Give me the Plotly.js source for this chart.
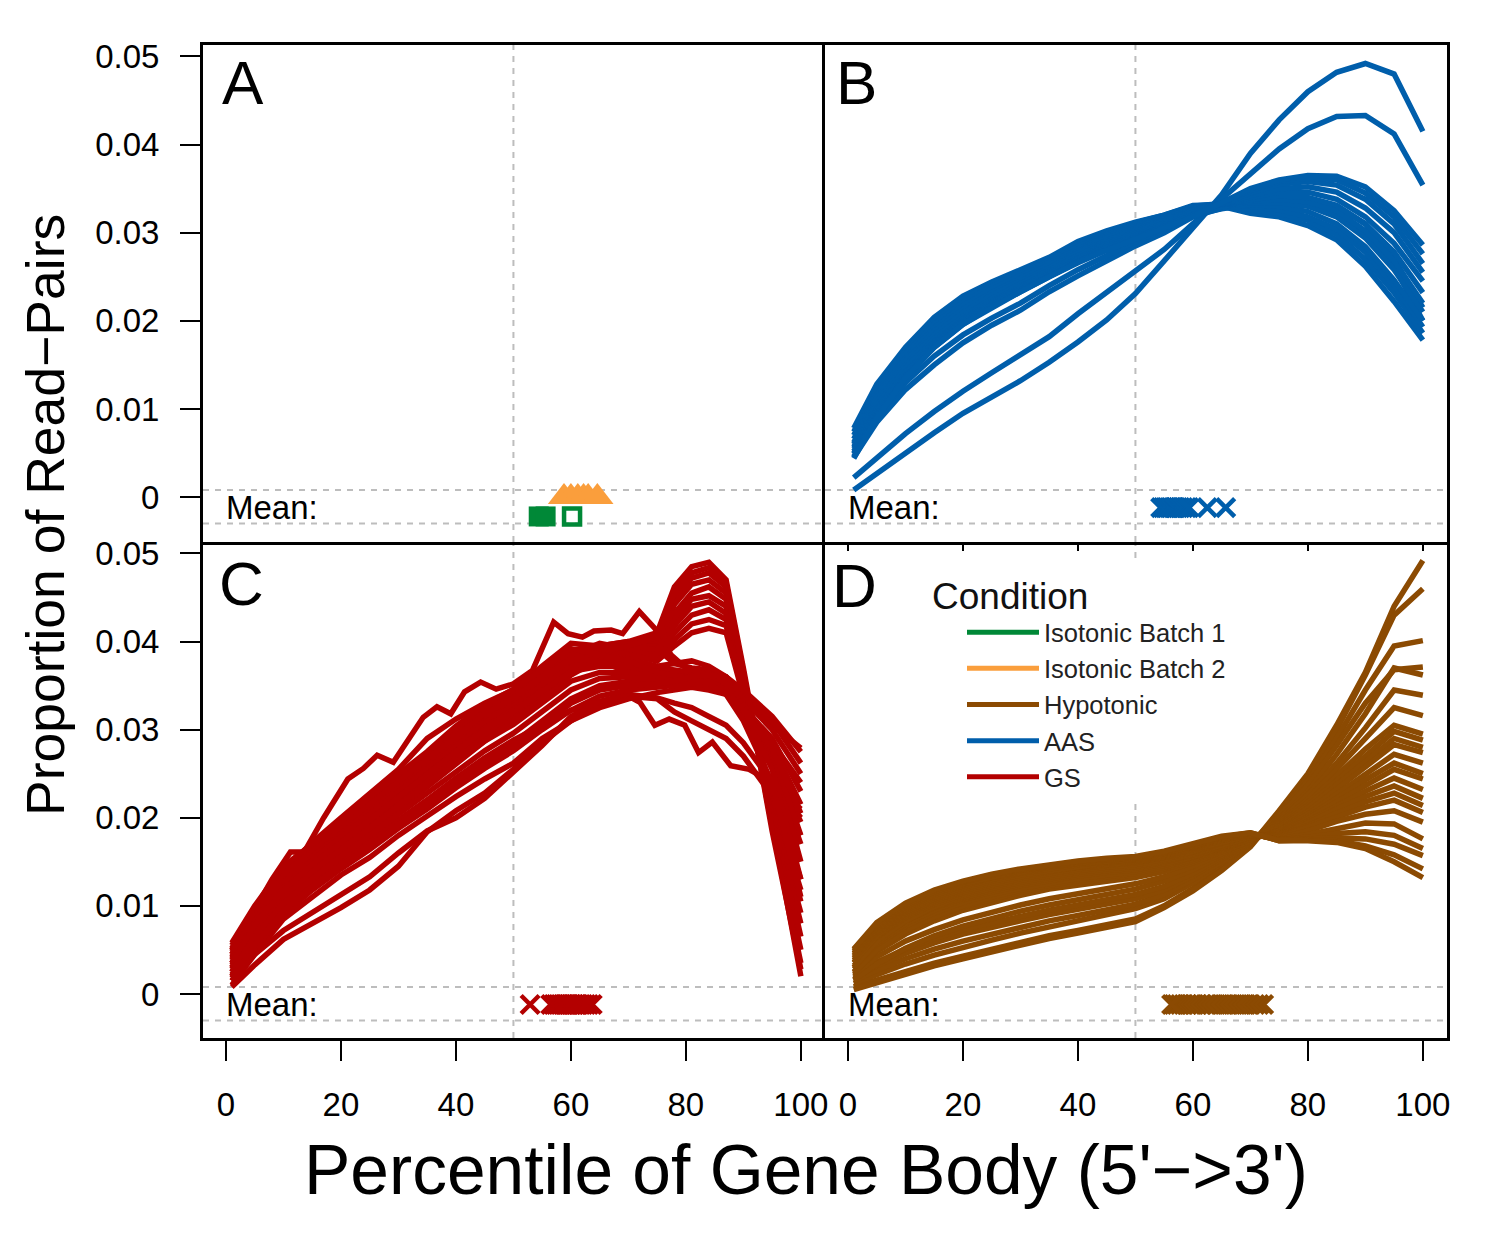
<!DOCTYPE html>
<html>
<head>
<meta charset="utf-8">
<script src="https://cdn.plot.ly/plotly-3.0.1.min.js"></script>
<style>html,body{margin:0;padding:0;background:#fff;}#chart{width:1488px;height:1238px;}</style>
</head>
<body>
<div id="chart"></div>
<script>
// ---------------- DATA ----------------
const conditions = ['Isotonic Batch 1', 'Isotonic Batch 2', 'Hypotonic', 'AAS', 'GS'];
const condColors = ['#008837', '#FA9E3C', '#8B4A02', '#005EAB', '#B30000'];

const xTicks = [0, 20, 40, 60, 80, 100];
const xTickText = ['0', '20', '40', '60', '80', '100'];
const yTicks = [0, 0.01, 0.02, 0.03, 0.04, 0.05];
const yTickText = ['0', '0.01', '0.02', '0.03', '0.04', '0.05'];

// percentile grid for panels B and D
const pct = [1, 5, 10, 15, 20, 25, 30, 35, 40, 45, 50, 55, 60, 65, 70, 75, 80, 85, 90, 95, 100];
// percentile grid for panel C
const pctC = [1, 5, 10, 15, 20, 25, 30, 35, 40, 45, 50, 55, 60, 65, 70, 75, 78, 81, 84, 87, 90, 95, 100];
const pctT1 = [1, 5, 8, 11.2, 13.6, 17, 21.2, 23.9, 26.3, 29.1, 31.9, 34.3, 36.7, 39.1, 41.5, 44.3, 47, 50, 53.3, 57, 59.5, 62, 64, 67, 69, 71.9, 74.6, 77.4, 80, 82.2, 84.6, 87.4, 91, 95, 100];
const pctLo3 = [1, 5, 10, 15, 20, 25, 30, 35, 40, 45, 50, 55, 60, 65, 70, 72, 74.6, 77.1, 79.8, 82.2, 84.6, 87.8, 91, 95, 100];

// Panel A: mean positions only
const iso1MeanFilled = [54.4, 55.6];
const iso1MeanOpen = [60.2];
const iso2Mean = [58.8, 60.0, 61.2, 62.2, 63.0, 64.6];

// Panel B: AAS
const aas01 = [0.0008, 0.0027, 0.0050, 0.0073, 0.0095, 0.0114, 0.0132, 0.0153, 0.0176, 0.0201, 0.0231, 0.0268, 0.0305, 0.0343, 0.0390, 0.0428, 0.0460, 0.0482, 0.0492, 0.0480, 0.0415];
const aas02 = [0.0022, 0.0045, 0.0072, 0.0097, 0.0120, 0.0141, 0.0162, 0.0182, 0.0208, 0.0232, 0.0256, 0.0281, 0.0310, 0.0338, 0.0366, 0.0395, 0.0418, 0.0432, 0.0433, 0.0412, 0.0354];
const aas03 = [0.0045, 0.0085, 0.0122, 0.0150, 0.0175, 0.0195, 0.0212, 0.0233, 0.0251, 0.0268, 0.0285, 0.0300, 0.0318, 0.0328, 0.0335, 0.0340, 0.0338, 0.0330, 0.0310, 0.0270, 0.0215];
const aas04 = [0.0050, 0.0092, 0.0130, 0.0160, 0.0184, 0.0203, 0.0220, 0.0240, 0.0258, 0.0274, 0.0290, 0.0304, 0.0320, 0.0327, 0.0332, 0.0335, 0.0332, 0.0322, 0.0300, 0.0262, 0.0200];
const aas05 = [0.0078, 0.0128, 0.0170, 0.0204, 0.0228, 0.0244, 0.0258, 0.0272, 0.0290, 0.0302, 0.0312, 0.0320, 0.0330, 0.0330, 0.0322, 0.0318, 0.0308, 0.0292, 0.0262, 0.0222, 0.0178];
const aas06 = [0.0074, 0.0124, 0.0166, 0.0200, 0.0225, 0.0242, 0.0256, 0.0270, 0.0287, 0.0300, 0.0311, 0.0320, 0.0331, 0.0332, 0.0326, 0.0322, 0.0314, 0.0298, 0.0270, 0.0232, 0.0186];
const aas07 = [0.0070, 0.0120, 0.0162, 0.0196, 0.0221, 0.0239, 0.0254, 0.0268, 0.0284, 0.0298, 0.0309, 0.0318, 0.0330, 0.0333, 0.0330, 0.0326, 0.0318, 0.0304, 0.0278, 0.0240, 0.0193];
const aas08 = [0.0066, 0.0116, 0.0158, 0.0192, 0.0217, 0.0236, 0.0251, 0.0266, 0.0282, 0.0296, 0.0307, 0.0317, 0.0329, 0.0333, 0.0332, 0.0330, 0.0324, 0.0310, 0.0284, 0.0246, 0.0200];
const aas09 = [0.0062, 0.0112, 0.0154, 0.0188, 0.0213, 0.0232, 0.0248, 0.0263, 0.0279, 0.0294, 0.0305, 0.0316, 0.0328, 0.0333, 0.0334, 0.0334, 0.0330, 0.0318, 0.0294, 0.0258, 0.0210];
const aas10 = [0.0060, 0.0108, 0.0150, 0.0184, 0.0209, 0.0229, 0.0245, 0.0260, 0.0277, 0.0291, 0.0303, 0.0315, 0.0327, 0.0333, 0.0336, 0.0338, 0.0335, 0.0325, 0.0302, 0.0268, 0.0220];
const aas11 = [0.0057, 0.0104, 0.0146, 0.0180, 0.0205, 0.0225, 0.0242, 0.0257, 0.0274, 0.0289, 0.0301, 0.0313, 0.0326, 0.0333, 0.0338, 0.0342, 0.0340, 0.0331, 0.0310, 0.0278, 0.0232];
const aas12 = [0.0055, 0.0100, 0.0142, 0.0176, 0.0202, 0.0222, 0.0239, 0.0255, 0.0272, 0.0287, 0.0299, 0.0311, 0.0325, 0.0333, 0.0340, 0.0346, 0.0346, 0.0338, 0.0318, 0.0288, 0.0245];
const aas13 = [0.0052, 0.0097, 0.0139, 0.0174, 0.0200, 0.0220, 0.0237, 0.0253, 0.0270, 0.0285, 0.0297, 0.0309, 0.0323, 0.0333, 0.0342, 0.0350, 0.0352, 0.0346, 0.0328, 0.0300, 0.0255];
const aas14 = [0.0049, 0.0094, 0.0137, 0.0172, 0.0198, 0.0218, 0.0235, 0.0251, 0.0268, 0.0283, 0.0295, 0.0307, 0.0321, 0.0333, 0.0345, 0.0355, 0.0358, 0.0354, 0.0338, 0.0310, 0.0265];
const aas15 = [0.0046, 0.0092, 0.0136, 0.0170, 0.0196, 0.0216, 0.0233, 0.0250, 0.0267, 0.0281, 0.0294, 0.0306, 0.0320, 0.0334, 0.0348, 0.0358, 0.0362, 0.0360, 0.0345, 0.0318, 0.0276];
const aas16 = [0.0044, 0.0090, 0.0135, 0.0170, 0.0196, 0.0215, 0.0233, 0.0250, 0.0266, 0.0280, 0.0293, 0.0305, 0.0318, 0.0334, 0.0350, 0.0360, 0.0365, 0.0364, 0.0352, 0.0325, 0.0286];
const aasCurves = [aas01, aas02, aas03, aas04, aas05, aas06, aas07, aas08, aas09, aas10, aas11, aas12, aas13, aas14, aas15, aas16];
const aasMean = [54.4, 54.8, 55.2, 55.5, 55.9, 56.2, 56.6, 56.8, 57.0, 57.4, 57.8, 58.3, 58.9, 59.3, 62.5, 65.7];

// Panel C: GS
const gsT1 = [0.0050, 0.0095, 0.0130, 0.0161, 0.0161, 0.0200, 0.0244, 0.0256, 0.0271, 0.0263, 0.0291, 0.0314, 0.0326, 0.0318, 0.0343, 0.0354, 0.0346, 0.0352, 0.0367, 0.0422, 0.0409, 0.0405, 0.0412, 0.0413, 0.0409, 0.0434, 0.0415, 0.0385, 0.0370, 0.0362, 0.0365, 0.0352, 0.0330, 0.0305, 0.0279];
const gsLo3 = [0.0020, 0.0060, 0.0100, 0.0128, 0.0152, 0.0175, 0.0198, 0.0220, 0.0245, 0.0268, 0.0288, 0.0305, 0.0322, 0.0330, 0.0338, 0.0331, 0.0305, 0.0312, 0.0305, 0.0274, 0.0286, 0.0259, 0.0255, 0.0240, 0.0210];
const gs01 = [0.0045, 0.0090, 0.0140, 0.0172, 0.0200, 0.0228, 0.0255, 0.0290, 0.0312, 0.0330, 0.0345, 0.0372, 0.0398, 0.0395, 0.0400, 0.0392, 0.0375, 0.0370, 0.0368, 0.0360, 0.0340, 0.0310, 0.0262];
const gs02 = [0.0008, 0.0033, 0.0062, 0.0080, 0.0098, 0.0118, 0.0145, 0.0184, 0.0208, 0.0228, 0.0255, 0.0285, 0.0310, 0.0330, 0.0338, 0.0335, 0.0320, 0.0310, 0.0300, 0.0290, 0.0270, 0.0225, 0.0180];
const gs03 = [0.0015, 0.0045, 0.0072, 0.0092, 0.0113, 0.0133, 0.0160, 0.0185, 0.0200, 0.0222, 0.0252, 0.0282, 0.0315, 0.0332, 0.0340, 0.0336, 0.0330, 0.0325, 0.0315, 0.0305, 0.0285, 0.0240, 0.0200];
const gs04 = [0.0035, 0.0080, 0.0120, 0.0150, 0.0175, 0.0200, 0.0228, 0.0255, 0.0282, 0.0305, 0.0325, 0.0350, 0.0380, 0.0395, 0.0400, 0.0410, 0.0462, 0.0485, 0.0490, 0.0470, 0.0370, 0.0195, 0.0020];
const gs05 = [0.0030, 0.0072, 0.0112, 0.0142, 0.0168, 0.0193, 0.0220, 0.0248, 0.0275, 0.0300, 0.0322, 0.0345, 0.0372, 0.0390, 0.0398, 0.0402, 0.0450, 0.0472, 0.0478, 0.0462, 0.0362, 0.0190, 0.0035];
const gs06 = [0.0042, 0.0088, 0.0128, 0.0158, 0.0183, 0.0208, 0.0235, 0.0262, 0.0288, 0.0312, 0.0330, 0.0356, 0.0385, 0.0398, 0.0392, 0.0398, 0.0442, 0.0465, 0.0470, 0.0455, 0.0355, 0.0200, 0.0050];
const gs07 = [0.0025, 0.0068, 0.0108, 0.0137, 0.0162, 0.0188, 0.0214, 0.0240, 0.0268, 0.0292, 0.0316, 0.0340, 0.0368, 0.0385, 0.0395, 0.0395, 0.0432, 0.0455, 0.0462, 0.0448, 0.0352, 0.0205, 0.0065];
const gs08 = [0.0048, 0.0092, 0.0132, 0.0162, 0.0188, 0.0213, 0.0240, 0.0266, 0.0292, 0.0318, 0.0336, 0.0362, 0.0390, 0.0396, 0.0388, 0.0392, 0.0425, 0.0448, 0.0452, 0.0440, 0.0350, 0.0210, 0.0080];
const gs09 = [0.0020, 0.0062, 0.0102, 0.0132, 0.0158, 0.0183, 0.0208, 0.0235, 0.0262, 0.0287, 0.0310, 0.0335, 0.0362, 0.0380, 0.0390, 0.0390, 0.0418, 0.0440, 0.0445, 0.0432, 0.0345, 0.0212, 0.0092];
const gs10 = [0.0038, 0.0082, 0.0122, 0.0152, 0.0178, 0.0203, 0.0230, 0.0257, 0.0284, 0.0308, 0.0328, 0.0352, 0.0378, 0.0392, 0.0386, 0.0385, 0.0410, 0.0430, 0.0436, 0.0425, 0.0342, 0.0218, 0.0105];
const gs11 = [0.0028, 0.0070, 0.0110, 0.0140, 0.0165, 0.0190, 0.0217, 0.0244, 0.0270, 0.0295, 0.0318, 0.0342, 0.0368, 0.0385, 0.0392, 0.0382, 0.0402, 0.0420, 0.0425, 0.0418, 0.0340, 0.0225, 0.0118];
const gs12 = [0.0052, 0.0095, 0.0135, 0.0165, 0.0190, 0.0216, 0.0243, 0.0270, 0.0296, 0.0320, 0.0338, 0.0362, 0.0388, 0.0392, 0.0385, 0.0378, 0.0395, 0.0410, 0.0415, 0.0410, 0.0338, 0.0230, 0.0130];
const gs13 = [0.0033, 0.0076, 0.0116, 0.0146, 0.0171, 0.0196, 0.0223, 0.0250, 0.0277, 0.0302, 0.0323, 0.0347, 0.0374, 0.0388, 0.0395, 0.0405, 0.0455, 0.0478, 0.0484, 0.0466, 0.0366, 0.0185, 0.0028];
const gs14 = [0.0055, 0.0098, 0.0140, 0.0168, 0.0192, 0.0220, 0.0246, 0.0272, 0.0300, 0.0325, 0.0342, 0.0365, 0.0385, 0.0380, 0.0375, 0.0370, 0.0368, 0.0365, 0.0362, 0.0355, 0.0335, 0.0300, 0.0250];
const gs15 = [0.0010, 0.0045, 0.0085, 0.0110, 0.0135, 0.0155, 0.0180, 0.0202, 0.0224, 0.0244, 0.0262, 0.0290, 0.0310, 0.0325, 0.0335, 0.0342, 0.0345, 0.0348, 0.0345, 0.0340, 0.0325, 0.0290, 0.0230];
const gs16 = [0.0040, 0.0085, 0.0125, 0.0155, 0.0180, 0.0205, 0.0232, 0.0258, 0.0285, 0.0310, 0.0330, 0.0352, 0.0372, 0.0375, 0.0370, 0.0362, 0.0360, 0.0362, 0.0358, 0.0350, 0.0320, 0.0265, 0.0195];
const gs17 = [0.0022, 0.0060, 0.0098, 0.0126, 0.0150, 0.0172, 0.0196, 0.0220, 0.0244, 0.0266, 0.0285, 0.0310, 0.0335, 0.0350, 0.0355, 0.0350, 0.0352, 0.0355, 0.0352, 0.0345, 0.0318, 0.0262, 0.0170];
const gs18 = [0.0045, 0.0090, 0.0130, 0.0160, 0.0186, 0.0212, 0.0238, 0.0264, 0.0290, 0.0315, 0.0334, 0.0358, 0.0378, 0.0385, 0.0380, 0.0372, 0.0375, 0.0378, 0.0372, 0.0360, 0.0330, 0.0270, 0.0150];
const gs19 = [0.0015, 0.0052, 0.0090, 0.0118, 0.0142, 0.0164, 0.0188, 0.0210, 0.0234, 0.0256, 0.0276, 0.0300, 0.0322, 0.0338, 0.0345, 0.0348, 0.0350, 0.0352, 0.0350, 0.0342, 0.0320, 0.0282, 0.0215];
const gs20 = [0.0050, 0.0094, 0.0135, 0.0164, 0.0190, 0.0216, 0.0242, 0.0268, 0.0294, 0.0318, 0.0336, 0.0360, 0.0380, 0.0378, 0.0365, 0.0358, 0.0362, 0.0368, 0.0365, 0.0352, 0.0322, 0.0255, 0.0130];
const gs21 = [0.0030, 0.0072, 0.0110, 0.0139, 0.0164, 0.0188, 0.0214, 0.0238, 0.0263, 0.0287, 0.0306, 0.0330, 0.0355, 0.0365, 0.0365, 0.0360, 0.0358, 0.0360, 0.0358, 0.0350, 0.0328, 0.0285, 0.0240];
const gs22 = [0.0035, 0.0078, 0.0118, 0.0147, 0.0172, 0.0197, 0.0223, 0.0249, 0.0275, 0.0300, 0.0320, 0.0344, 0.0366, 0.0372, 0.0372, 0.0366, 0.0365, 0.0368, 0.0362, 0.0352, 0.0325, 0.0275, 0.0180];
const gs23 = [0.0025, 0.0065, 0.0103, 0.0131, 0.0156, 0.0180, 0.0204, 0.0228, 0.0253, 0.0276, 0.0296, 0.0320, 0.0345, 0.0358, 0.0360, 0.0355, 0.0356, 0.0358, 0.0355, 0.0345, 0.0322, 0.0278, 0.0205];
const gs24 = [0.0058, 0.0100, 0.0145, 0.0170, 0.0195, 0.0224, 0.0250, 0.0275, 0.0304, 0.0328, 0.0346, 0.0368, 0.0392, 0.0385, 0.0378, 0.0365, 0.0362, 0.0358, 0.0352, 0.0340, 0.0310, 0.0240, 0.0110];
const gs25 = [0.0018, 0.0056, 0.0094, 0.0122, 0.0146, 0.0168, 0.0192, 0.0215, 0.0240, 0.0262, 0.0282, 0.0305, 0.0330, 0.0345, 0.0350, 0.0352, 0.0355, 0.0360, 0.0362, 0.0360, 0.0345, 0.0315, 0.0275];
const gsCurves = [gs01, gs02, gs03, gs04, gs05, gs06, gs07, gs08, gs09, gs10, gs11, gs12, gs13, gs14, gs15, gs16, gs17, gs18, gs19, gs20, gs21, gs22, gs23, gs24, gs25];
const gsMean = [52.9, 56.5, 57.0, 57.4, 57.8, 58.2, 58.6, 58.9, 59.3, 59.7, 60.1, 60.5, 60.9, 61.3, 61.7, 62.1, 62.6, 63.1, 63.7];

// Panel D: Hypotonic
const hypo01 = [0.0008, 0.0016, 0.0026, 0.0035, 0.0043, 0.0051, 0.0059, 0.0066, 0.0072, 0.0078, 0.0085, 0.0100, 0.0120, 0.0143, 0.0168, 0.0208, 0.0250, 0.0305, 0.0365, 0.0440, 0.0492];
const hypo02 = [0.0005, 0.0013, 0.0023, 0.0032, 0.0040, 0.0048, 0.0056, 0.0063, 0.0069, 0.0075, 0.0082, 0.0098, 0.0117, 0.0140, 0.0167, 0.0206, 0.0246, 0.0300, 0.0362, 0.0430, 0.0460];
const hypo03 = [0.0012, 0.0022, 0.0034, 0.0044, 0.0053, 0.0061, 0.0069, 0.0076, 0.0083, 0.0090, 0.0097, 0.0108, 0.0126, 0.0148, 0.0170, 0.0204, 0.0242, 0.0290, 0.0345, 0.0395, 0.0401];
const hypo04 = [0.0015, 0.0027, 0.0040, 0.0051, 0.0060, 0.0068, 0.0076, 0.0083, 0.0089, 0.0095, 0.0102, 0.0113, 0.0130, 0.0150, 0.0171, 0.0202, 0.0237, 0.0282, 0.0330, 0.0368, 0.0371];
const hypo05 = [0.0018, 0.0032, 0.0046, 0.0058, 0.0068, 0.0076, 0.0083, 0.0090, 0.0096, 0.0102, 0.0108, 0.0118, 0.0134, 0.0153, 0.0172, 0.0198, 0.0230, 0.0272, 0.0318, 0.0370, 0.0362];
const hypo06 = [0.0020, 0.0036, 0.0051, 0.0063, 0.0073, 0.0081, 0.0088, 0.0095, 0.0101, 0.0107, 0.0113, 0.0122, 0.0137, 0.0155, 0.0173, 0.0196, 0.0226, 0.0262, 0.0302, 0.0345, 0.0339];
const hypo07 = [0.0016, 0.0034, 0.0052, 0.0066, 0.0077, 0.0086, 0.0094, 0.0101, 0.0107, 0.0113, 0.0119, 0.0128, 0.0141, 0.0157, 0.0174, 0.0194, 0.0221, 0.0255, 0.0290, 0.0325, 0.0316];
const hypo08 = [0.0022, 0.0042, 0.0060, 0.0073, 0.0084, 0.0093, 0.0101, 0.0108, 0.0114, 0.0120, 0.0125, 0.0133, 0.0145, 0.0159, 0.0175, 0.0192, 0.0217, 0.0248, 0.0278, 0.0305, 0.0295];
const hypo09 = [0.0025, 0.0048, 0.0068, 0.0083, 0.0095, 0.0104, 0.0112, 0.0119, 0.0124, 0.0128, 0.0132, 0.0139, 0.0149, 0.0162, 0.0174, 0.0190, 0.0214, 0.0242, 0.0270, 0.0298, 0.0288];
const hypo10 = [0.0028, 0.0052, 0.0072, 0.0087, 0.0099, 0.0108, 0.0116, 0.0122, 0.0127, 0.0131, 0.0135, 0.0142, 0.0151, 0.0163, 0.0175, 0.0188, 0.0211, 0.0238, 0.0265, 0.0290, 0.0280];
const hypo11 = [0.0024, 0.0050, 0.0072, 0.0088, 0.0100, 0.0110, 0.0118, 0.0124, 0.0129, 0.0133, 0.0137, 0.0144, 0.0153, 0.0165, 0.0176, 0.0186, 0.0207, 0.0232, 0.0258, 0.0283, 0.0274];
const hypo12 = [0.0030, 0.0056, 0.0077, 0.0092, 0.0104, 0.0113, 0.0120, 0.0126, 0.0131, 0.0135, 0.0139, 0.0146, 0.0155, 0.0166, 0.0176, 0.0185, 0.0204, 0.0227, 0.0250, 0.0272, 0.0262];
const hypo13 = [0.0032, 0.0058, 0.0080, 0.0095, 0.0107, 0.0116, 0.0123, 0.0129, 0.0134, 0.0138, 0.0141, 0.0148, 0.0156, 0.0167, 0.0177, 0.0183, 0.0201, 0.0222, 0.0243, 0.0262, 0.0250];
const hypo14 = [0.0035, 0.0062, 0.0083, 0.0098, 0.0109, 0.0118, 0.0125, 0.0131, 0.0136, 0.0140, 0.0143, 0.0150, 0.0158, 0.0168, 0.0178, 0.0182, 0.0199, 0.0218, 0.0236, 0.0255, 0.0244];
const hypo15 = [0.0030, 0.0060, 0.0083, 0.0099, 0.0111, 0.0120, 0.0127, 0.0133, 0.0138, 0.0142, 0.0145, 0.0151, 0.0159, 0.0169, 0.0178, 0.0181, 0.0196, 0.0213, 0.0230, 0.0245, 0.0232];
const hypo16 = [0.0038, 0.0065, 0.0087, 0.0102, 0.0113, 0.0122, 0.0129, 0.0135, 0.0140, 0.0144, 0.0147, 0.0153, 0.0161, 0.0171, 0.0179, 0.0180, 0.0194, 0.0210, 0.0224, 0.0236, 0.0222];
const hypo17 = [0.0036, 0.0066, 0.0089, 0.0104, 0.0115, 0.0124, 0.0131, 0.0137, 0.0142, 0.0146, 0.0149, 0.0155, 0.0162, 0.0172, 0.0180, 0.0179, 0.0191, 0.0205, 0.0218, 0.0228, 0.0214];
const hypo18 = [0.0040, 0.0069, 0.0091, 0.0106, 0.0117, 0.0126, 0.0133, 0.0139, 0.0144, 0.0147, 0.0150, 0.0156, 0.0164, 0.0173, 0.0180, 0.0178, 0.0189, 0.0201, 0.0212, 0.0220, 0.0206];
const hypo19 = [0.0042, 0.0071, 0.0093, 0.0108, 0.0119, 0.0128, 0.0135, 0.0140, 0.0145, 0.0149, 0.0151, 0.0157, 0.0165, 0.0174, 0.0181, 0.0177, 0.0185, 0.0196, 0.0204, 0.0208, 0.0195];
const hypo20 = [0.0044, 0.0073, 0.0095, 0.0110, 0.0121, 0.0130, 0.0137, 0.0142, 0.0147, 0.0150, 0.0152, 0.0158, 0.0166, 0.0175, 0.0181, 0.0176, 0.0181, 0.0188, 0.0194, 0.0193, 0.0176];
const hypo21 = [0.0046, 0.0075, 0.0097, 0.0112, 0.0123, 0.0132, 0.0138, 0.0144, 0.0148, 0.0151, 0.0153, 0.0159, 0.0167, 0.0176, 0.0182, 0.0175, 0.0178, 0.0182, 0.0184, 0.0180, 0.0165];
const hypo22 = [0.0048, 0.0077, 0.0099, 0.0114, 0.0125, 0.0133, 0.0140, 0.0145, 0.0149, 0.0152, 0.0154, 0.0160, 0.0168, 0.0177, 0.0182, 0.0175, 0.0176, 0.0177, 0.0176, 0.0170, 0.0157];
const hypo23 = [0.0050, 0.0079, 0.0101, 0.0116, 0.0127, 0.0135, 0.0141, 0.0146, 0.0150, 0.0153, 0.0155, 0.0161, 0.0169, 0.0178, 0.0183, 0.0174, 0.0175, 0.0174, 0.0168, 0.0158, 0.0142];
const hypo24 = [0.0051, 0.0081, 0.0103, 0.0118, 0.0128, 0.0136, 0.0142, 0.0147, 0.0151, 0.0154, 0.0156, 0.0162, 0.0170, 0.0179, 0.0183, 0.0174, 0.0174, 0.0172, 0.0165, 0.0150, 0.0132];
const hypoCurves = [hypo01, hypo02, hypo03, hypo04, hypo05, hypo06, hypo07, hypo08, hypo09, hypo10, hypo11, hypo12, hypo13, hypo14, hypo15, hypo16, hypo17, hypo18, hypo19, hypo20, hypo21, hypo22, hypo23, hypo24];
const hypoMean = [72.3, 71.5, 70.8, 70.0, 69.2, 68.5, 67.8, 67.0, 66.2, 65.5, 64.8, 64.0, 63.3, 62.5, 61.6, 60.8, 60.2, 59.6, 59.0, 58.4, 57.8, 57.2, 56.7, 56.3];

// mean-strip rows (y positions below zero)
const meanStripTop = 0.0008, meanStripBottom = -0.0030;
const meanRowY = -0.0012, iso1RowY = -0.0022, iso2RowY = 0.0;

// ---------------- BUILD ----------------
const FONT = '"Liberation Sans", Arial, Helvetica, sans-serif';
const LW = 5.5;
const traces = [];
function addLines(xs, ys, color, xa, ya) {
  traces.push({x: xs, y: ys, type: 'scatter', mode: 'lines', line: {color: color, width: LW},
    xaxis: xa, yaxis: ya, showlegend: false, hoverinfo: 'skip'});
}
function addMarkers(xs, yv, color, symbol, size, lw, xa, ya) {
  traces.push({x: xs, y: xs.map(() => yv), type: 'scatter', mode: 'markers',
    marker: {color: color, symbol: symbol, size: size, line: {color: color, width: lw}},
    xaxis: xa, yaxis: ya, showlegend: false, hoverinfo: 'skip'});
}
// Panel B
aasCurves.forEach(c => addLines(pct, c, condColors[3], 'x2', 'y2'));
// Panel C
addLines(pctT1, gsT1, condColors[4], 'x3', 'y3');
addLines(pctLo3, gsLo3, condColors[4], 'x3', 'y3');
gsCurves.forEach(c => addLines(pctC, c, condColors[4], 'x3', 'y3'));
// Panel D
hypoCurves.forEach(c => addLines(pct, c, condColors[2], 'x4', 'y4'));
// Means
addMarkers(iso2Mean, iso2RowY, condColors[1], 'triangle-up', 28, 0, 'x', 'y');
addMarkers(iso1MeanFilled, iso1RowY, condColors[0], 'square', 20, 0, 'x', 'y');
addMarkers(iso1MeanOpen, iso1RowY, condColors[0], 'square-open', 16, 4.5, 'x', 'y');
addMarkers(aasMean, meanRowY, condColors[3], 'x-thin-open', 18, 4.5, 'x2', 'y2');
addMarkers(gsMean, meanRowY, condColors[4], 'x-thin-open', 18, 4.5, 'x3', 'y3');
addMarkers(hypoMean, meanRowY, condColors[2], 'x-thin-open', 18, 4.5, 'x4', 'y4');
// Legend entries
conditions.forEach((name, i) => {
  traces.push({x: [null], y: [null], type: 'scatter', mode: 'lines', name: name,
    line: {color: condColors[i], width: 5}, xaxis: 'x4', yaxis: 'y4', showlegend: true});
});

const W = 1488, H = 1238;
const xDomL = [203 / W, 825 / W], xDomR = [825 / W, 1447 / W];
const yDomT = [1 - 542 / H, 1 - 45 / H], yDomB = [1 - 1038 / H, 1 - 542 / H];
const xRange = [-4, 104.2];
const yRangeT = [-0.0051, 0.0513], yRangeB = [-0.0050, 0.0513];

function xAxis(dom, anchor, labels, smallTicks, mirror) {
  const a = {domain: dom, range: xRange, anchor: anchor, showline: true, mirror: mirror, linecolor: '#000',
    linewidth: 3, showgrid: false, zeroline: false, fixedrange: true};
  if (labels) {
    Object.assign(a, {ticks: 'outside', ticklen: 20, tickwidth: 2, tickcolor: '#000', tickmode: 'array',
      tickvals: xTicks, ticktext: xTickText, showticklabels: true, ticklabelstandoff: 15,
      tickfont: {family: FONT, size: 33, color: '#000'}});
  } else if (smallTicks) {
    Object.assign(a, {ticks: 'outside', ticklen: 6, tickwidth: 2, tickcolor: '#000', tickmode: 'array',
      tickvals: xTicks, showticklabels: false});
  } else {
    Object.assign(a, {ticks: '', showticklabels: false});
  }
  return a;
}
function yAxis(dom, anchor, range, labels, mirror) {
  const a = {domain: dom, range: range, anchor: anchor, showline: true, mirror: mirror, linecolor: '#000',
    linewidth: 3, showgrid: false, zeroline: false, fixedrange: true};
  if (labels) {
    Object.assign(a, {ticks: 'outside', ticklen: 20, tickwidth: 2, tickcolor: '#000', tickmode: 'array',
      tickvals: yTicks, ticktext: yTickText, showticklabels: true, ticklabelstandoff: 14,
      tickfont: {family: FONT, size: 33, color: '#000'}});
  } else {
    Object.assign(a, {ticks: '', showticklabels: false});
  }
  return a;
}

const shapes = [];
const dashStyle = {color: '#BDBDBD', width: 2, dash: '6px,6px'};
[['x', 'y'], ['x2', 'y2'], ['x3', 'y3'], ['x4', 'y4']].forEach(([xa, ya]) => {
  [meanStripTop, meanStripBottom].forEach(v => shapes.push({type: 'line', layer: 'below',
    xref: xa + ' domain', x0: 0, x1: 1, yref: ya, y0: v, y1: v, line: dashStyle}));
  shapes.push({type: 'line', layer: 'below', xref: xa, x0: 50, x1: 50, yref: ya + ' domain', y0: 0, y1: 1, line: dashStyle});
});

const annotations = [];
function letter(t, px, py) {
  annotations.push({text: t, xref: 'paper', yref: 'paper', x: px / W, y: 1 - py / H, xanchor: 'left', yanchor: 'middle',
    showarrow: false, font: {family: FONT, size: 62, color: '#000'}});
}
letter('A', 220, 83); letter('B', 834, 83); letter('C', 217, 583); letter('D', 830, 585);
[['x', 'y'], ['x2', 'y2'], ['x3', 'y3'], ['x4', 'y4']].forEach(([xa, ya]) => {
  annotations.push({text: 'Mean:', xref: xa, yref: ya, x: -0.3, y: meanRowY, xanchor: 'left', yanchor: 'middle',
    showarrow: false, font: {family: FONT, size: 33, color: '#000'}});
});
annotations.push({text: 'Proportion of Read\u2212Pairs', xref: 'paper', yref: 'paper', x: 45 / W, y: 1 - 515 / H,
  xanchor: 'center', yanchor: 'middle', textangle: -90, showarrow: false, font: {family: FONT, size: 53.5, color: '#000'}});
annotations.push({text: "Percentile of Gene Body (5'\u2212>3')", xref: 'paper', yref: 'paper', x: 806 / W, y: 1 - 1170 / H,
  xanchor: 'center', yanchor: 'middle', showarrow: false, font: {family: FONT, size: 69.5, color: '#000'}});

const layout = {
  width: W, height: H, margin: {l: 0, r: 0, t: 0, b: 0}, paper_bgcolor: '#fff', plot_bgcolor: '#fff',
  font: {family: FONT, color: '#000'},
  xaxis: xAxis(xDomL, 'y', false, false, true),
  xaxis2: xAxis(xDomR, 'y2', false, true, true),
  xaxis3: xAxis(xDomL, 'y3', true, false, false),
  xaxis4: xAxis(xDomR, 'y4', true, false, false),
  yaxis: yAxis(yDomT, 'x', yRangeT, true, false),
  yaxis2: yAxis(yDomT, 'x2', yRangeT, false, true),
  yaxis3: yAxis(yDomB, 'x3', yRangeB, true, false),
  yaxis4: yAxis(yDomB, 'x4', yRangeB, false, true),
  showlegend: true,
  legend: {x: 930 / W, xanchor: 'left', y: 1 - 561 / H, yanchor: 'top', bgcolor: '#fff', borderwidth: 0,
    font: {family: FONT, size: 25.5, color: '#222'}, itemwidth: 72, indentation: 32, traceorder: 'normal',
    title: {text: 'Condition', side: 'top', font: {family: FONT, size: 37, color: '#111'}}},
  shapes: shapes, annotations: annotations
};

Plotly.newPlot('chart', traces, layout, {displayModeBar: false, staticPlot: true});
</script>
</body>
</html>
